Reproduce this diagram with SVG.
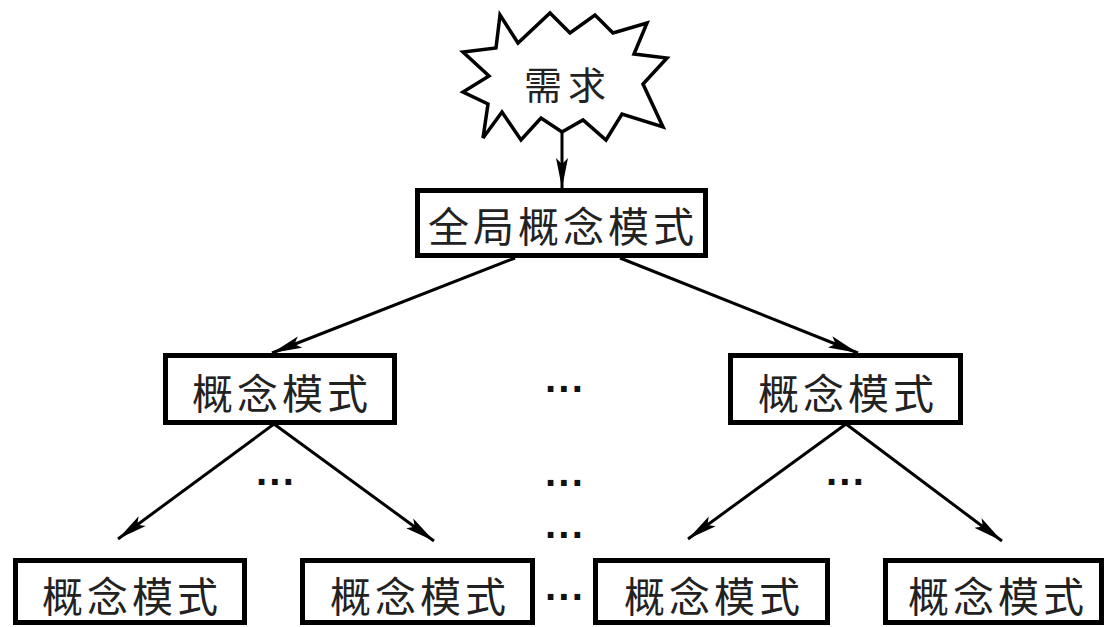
<svg xmlns="http://www.w3.org/2000/svg" width="1107" height="627" viewBox="0 0 1107 627">
<style>
.box{fill:#fff;stroke:#000;stroke-width:5}
.lbl{font-family:"Noto Sans CJK SC","Noto Sans CJK JP",sans-serif;font-size:41px;fill:#222;text-anchor:middle;dominant-baseline:central;letter-spacing:4px}
.dots{font-family:"Liberation Sans",sans-serif;font-size:40px;font-weight:bold;fill:#111;text-anchor:middle;dominant-baseline:central}
.edge{stroke:#000;stroke-width:3;fill:none;marker-end:url(#ah)}
</style>
<defs>
<marker id="ah" markerUnits="userSpaceOnUse" markerWidth="30" markerHeight="14" viewBox="0 0 30 14" refX="30" refY="7" orient="auto">
<path d="M0,1 L30,7 L0,13 L6,7 Z" fill="#000"/>
</marker>
</defs>
<rect width="1107" height="627" fill="#fff"/>
<g id="connectors">
<line class="edge" x1="562" y1="130" x2="562" y2="188"/>
<line class="edge" x1="515" y1="258" x2="272" y2="353"/>
<line class="edge" x1="620" y1="258" x2="858" y2="353"/>
<line class="edge" x1="274" y1="424" x2="118" y2="539"/>
<line class="edge" x1="274" y1="424" x2="434" y2="541"/>
<line class="edge" x1="846" y1="424" x2="688" y2="539"/>
<line class="edge" x1="846" y1="424" x2="1002" y2="541"/>
</g>
<g id="need">
<polygon points="500,15 518,43 550,13 570,33 595,15 613,33 647,23 634,54 667,58 643,84 663,127 622,114 606,140 583,120 562,132 541,118 521,140 502,112 483,138 488,104 463,92 489,76 463,52 496,48" fill="#fff" stroke="#000" stroke-width="3.5" stroke-linejoin="miter"/>
<text class="lbl" x="568" y="82" style="font-size:38px;letter-spacing:6px">需求</text>
</g>
<g id="global">
<rect class="box" x="417.5" y="190.5" width="288" height="65"/>
<text class="lbl" x="563" y="224">全局概念模式</text>
</g>
<g id="cm-left">
<rect class="box" x="165.5" y="355.5" width="229" height="67"/>
<text class="lbl" x="282" y="391">概念模式</text>
</g>
<g id="cm-right">
<rect class="box" x="730.5" y="355.5" width="230" height="67"/>
<text class="lbl" x="848" y="391">概念模式</text>
</g>
<g id="cm-b1">
<rect class="box" x="15.5" y="560.5" width="229" height="62"/>
<text class="lbl" x="132" y="594">概念模式</text>
</g>
<g id="cm-b2">
<rect class="box" x="302.5" y="560.5" width="230" height="62"/>
<text class="lbl" x="420" y="594">概念模式</text>
</g>
<g id="cm-b3">
<rect class="box" x="595.5" y="560.5" width="232" height="62"/>
<text class="lbl" x="714" y="594">概念模式</text>
</g>
<g id="cm-b4">
<rect class="box" x="885.5" y="560.5" width="216" height="62"/>
<text class="lbl" x="998" y="594">概念模式</text>
</g>
<g id="ellipses">
<text class="dots" x="276" y="482">···</text>
<text class="dots" x="846" y="482">···</text>
<text class="dots" x="565" y="389">···</text>
<text class="dots" x="565" y="483">···</text>
<text class="dots" x="565" y="535">···</text>
<text class="dots" x="565" y="597">···</text>
</g>
</svg>
